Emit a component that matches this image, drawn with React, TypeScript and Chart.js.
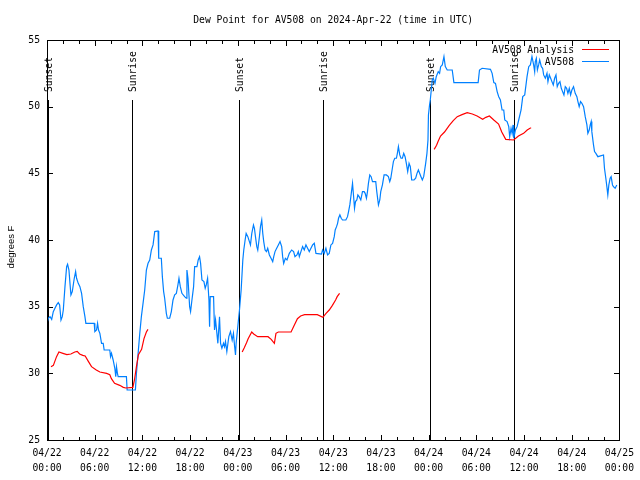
import React, { useEffect, useRef } from 'react';
import { Chart, registerables } from 'chart.js';

Chart.register(...registerables);

const TITLE = 'Dew Point for AV508 on 2024-Apr-22 (time in UTC)';
const Y_TITLE = 'degrees F';
const ANALYSIS_NAME = 'AV508 Analysis';
const STATION_NAME = 'AV508';

// x = hours since 04/22 00:00 UTC
const X_MIN = 0;
const X_MAX = 72;
const Y_MIN = 25;
const Y_MAX = 55;
const Y_TICKS = [25, 30, 35, 40, 45, 50, 55];
const X_LABEL_HOURS = [0, 6, 12, 18, 24, 30, 36, 42, 48, 54, 60, 66, 72];

const sunEventHours = [0.08, 10.7, 24.12, 34.71, 48.21, 58.74];
const sunEventLabels = ['Sunset', 'Sunrise', 'Sunset', 'Sunrise', 'Sunset', 'Sunrise'];

// AV508 Analysis (three runs, separated by gaps)
const analysisHours = [
  0.5, 0.8, 1.2, 1.5, 2.0, 2.5, 3.0, 3.5, 3.8, 4.1, 4.5, 4.8, 5.2, 5.6, 6.2, 6.65, 7.5, 7.9, 8.1, 8.5, 9.15, 9.6, 9.9, 10.8, 11.0, 11.25, 11.5, 11.9, 12.2, 12.5, 12.7,
  18.0,
  24.55, 24.8, 25.1, 25.3, 25.75, 26.0, 26.5, 27.8, 28.2, 28.6, 28.8, 29.1, 30.7, 31.1, 31.5, 31.9, 32.4, 34.0, 34.7, 35.1, 35.5, 35.9, 36.3, 36.5, 36.8,
  42.0,
  48.7, 49.0, 49.2, 49.5, 50.0, 50.6, 51.1, 51.6, 52.2, 52.85, 53.5, 54.1, 54.8, 55.2, 55.65, 56.2, 56.8, 57.2, 57.7, 58.7, 59.3, 59.95, 60.4, 60.8, 60.9,
];
const analysisValues = [
  30.5, 30.6, 31.25, 31.6, 31.5, 31.4, 31.45, 31.6, 31.65, 31.45, 31.35, 31.3, 30.9, 30.5, 30.25, 30.1, 30.0, 29.9, 29.6, 29.25, 29.1, 28.95, 28.9, 28.95, 29.5, 30.5, 31.4, 31.8, 32.6, 33.1, 33.3,
  null,
  31.6, 31.9, 32.3, 32.6, 33.1, 32.95, 32.75, 32.75, 32.55, 32.25, 33.0, 33.1, 33.1, 33.6, 34.1, 34.3, 34.4, 34.4, 34.2, 34.5, 34.75, 35.1, 35.5, 35.75, 36.0,
  null,
  46.8, 47.1, 47.4, 47.8, 48.1, 48.6, 48.95, 49.25, 49.4, 49.55, 49.45, 49.3, 49.05, 49.2, 49.3, 49.0, 48.7, 48.1, 47.55, 47.5, 47.8, 48.0, 48.25, 48.4, 48.4,
];

// AV508 observations
const stationHours = [
  0.0, 0.17, 0.38, 0.59, 0.79, 1.0, 1.21, 1.42, 1.59, 1.76, 1.92, 2.05, 2.26, 2.47, 2.59, 2.76, 2.89, 3.01, 3.18, 3.43,
  3.6, 3.72, 3.93, 4.14, 4.35, 4.56, 4.77, 4.89, 5.94, 6.02, 6.23, 6.36, 6.48, 6.65, 6.86, 7.07, 7.19, 7.9, 7.99, 8.11,
  8.32, 8.53, 8.65, 8.74, 8.86, 8.95, 9.99, 10.08, 11.12, 11.25, 11.46, 11.67, 11.87, 12.08, 12.29, 12.5, 12.71, 12.92, 13.13, 13.34,
  13.55, 13.97, 14.05, 14.38, 14.51, 14.67, 14.8, 15.01, 15.14, 15.43, 15.64, 15.85, 16.06, 16.27, 16.47, 16.6, 16.77, 16.97, 17.31, 17.52,
  17.6, 17.73, 17.94, 18.06, 18.23, 18.44, 18.57, 18.86, 19.02, 19.19, 19.32, 19.49, 19.74, 19.9, 20.03, 20.2, 20.37, 20.45, 20.53, 20.95,
  21.07, 21.2, 21.37, 21.49, 21.7, 21.83, 22.0, 22.2, 22.33, 22.45, 22.62, 22.87, 23.08, 23.29, 23.45, 23.58, 23.71, 23.79, 24.0, 24.08,
  24.21, 24.42, 24.63, 24.75, 24.92, 25.05, 25.26, 25.46, 25.59, 25.76, 25.97, 26.09, 26.22, 26.39, 26.51, 26.72, 26.85, 27.01, 27.14, 27.26,
  27.43, 27.6, 27.76, 27.97, 28.18, 28.39, 28.52, 28.68, 28.89, 29.1, 29.31, 29.52, 29.64, 29.77, 29.98, 30.19, 30.48, 30.77, 31.02, 31.19,
  31.44, 31.61, 31.74, 31.94, 32.15, 32.36, 32.57, 32.78, 32.99, 33.2, 33.41, 33.62, 33.83, 34.53, 34.66, 34.87, 35.08, 35.29, 35.5, 35.71,
  35.92, 36.13, 36.25, 36.42, 36.55, 36.67, 36.84, 37.01, 37.17, 37.59, 37.8, 37.93, 38.09, 38.3, 38.43, 38.55, 38.68, 38.8, 38.97, 39.1,
  39.26, 39.47, 39.68, 39.89, 40.02, 40.18, 40.31, 40.43, 40.6, 40.77, 40.94, 41.35, 41.48, 41.69, 41.86, 41.98, 42.19, 42.4, 42.69, 42.94,
  43.11, 43.24, 43.44, 43.57, 43.74, 43.95, 44.07, 44.2, 44.37, 44.53, 44.7, 44.87, 45.04, 45.2, 45.37, 45.54, 45.7, 45.87, 46.16, 46.37,
  46.54, 46.71, 46.87, 47.04, 47.21, 47.38, 47.63, 47.79, 47.92, 47.98, 48.12, 48.21, 48.46, 48.59, 48.8, 48.96, 49.21, 49.38, 49.51, 49.72,
  49.93, 50.1, 50.34, 50.97, 51.18, 54.23, 54.4, 54.73, 55.78, 55.99, 56.2, 56.41, 56.62, 56.82, 57.03, 57.24, 57.45, 57.58, 57.87, 58.08,
  58.2, 58.37, 58.5, 58.62, 58.71, 58.92, 59.13, 59.33, 59.63, 59.84, 60.09, 60.38, 60.59, 60.8, 61.0, 61.21, 61.34, 61.42, 61.55, 61.68,
  61.84, 61.97, 62.18, 62.34, 62.47, 62.68, 62.89, 63.01, 63.18, 63.35, 63.51, 63.68, 63.85, 64.02, 64.18, 64.35, 64.52, 64.69, 64.85, 65.02,
  65.19, 65.36, 65.52, 65.69, 65.86, 66.02, 66.23, 66.44, 66.65, 66.78, 66.94, 67.11, 67.28, 67.49, 67.7, 67.91, 68.03, 68.2, 68.33, 68.45,
  68.53, 68.74, 68.87, 69.04, 69.29, 70.0, 70.12, 70.29, 70.42, 70.54, 70.67, 70.83, 70.96, 71.13, 71.25, 71.46, 71.67,
];
const stationValues = [
  33.75, 34.13, 34.25, 34.05, 34.62, 34.88, 35.13, 35.3, 35.13, 34.0, 34.25, 34.75, 36.5, 38.0, 38.18, 37.75, 36.75, 35.88, 36.13, 37.13,
  37.63, 37.13, 36.75, 36.5, 36.0, 35.0, 34.25, 33.75, 33.75, 33.13, 33.25, 33.75, 33.25, 33.0, 32.25, 32.25, 31.75, 31.75, 31.25, 31.5,
  31.0, 30.38, 29.75, 30.5, 30.0, 29.75, 29.75, 28.75, 28.75, 30.0, 31.5, 33.0, 34.25, 35.25, 36.25, 37.75, 38.25, 38.5, 39.25, 39.63,
  40.63, 40.68, 38.63, 38.63, 37.25, 36.13, 35.63, 34.5, 34.13, 34.13, 34.63, 35.5, 35.88, 36.0, 36.63, 37.13, 36.5, 36.0, 35.75, 35.63,
  37.75, 37.13, 35.0, 34.63, 35.5, 36.5, 38.0, 38.0, 38.5, 38.75, 38.25, 37.0, 36.88, 36.38, 36.63, 37.13, 35.5, 33.5, 35.75, 35.75,
  33.25, 34.0, 33.0, 32.25, 34.25, 32.25, 31.88, 32.25, 32.0, 32.38, 31.63, 32.75, 33.13, 32.5, 33.0, 32.13, 31.38, 32.25, 33.5, 34.0,
  34.75, 36.25, 38.5, 39.25, 40.0, 40.5, 40.25, 39.88, 39.63, 40.5, 41.13, 40.88, 40.25, 39.5, 39.25, 40.25, 41.0, 41.5, 40.5, 39.88,
  39.25, 39.13, 39.38, 38.88, 38.63, 38.38, 38.75, 39.13, 39.38, 39.63, 39.88, 39.5, 38.75, 38.25, 38.63, 38.5, 39.0, 39.25, 39.13, 38.75,
  38.88, 39.13, 38.75, 39.13, 39.5, 39.25, 39.63, 39.38, 39.13, 39.38, 39.63, 39.75, 39.0, 38.95, 39.25, 39.0, 39.38, 38.88, 39.0, 39.63,
  39.75, 40.25, 40.75, 41.0, 41.25, 41.63, 41.88, 41.63, 41.5, 41.5, 41.75, 42.13, 42.63, 43.63, 44.25, 43.38, 42.38, 42.88, 43.0, 43.38,
  43.25, 43.0, 43.63, 43.63, 43.5, 43.13, 43.63, 44.25, 44.88, 44.75, 44.38, 44.38, 43.63, 42.63, 43.0, 43.63, 44.13, 44.88, 44.88, 44.75,
  44.38, 44.63, 45.38, 45.88, 46.13, 46.13, 46.5, 47.0, 46.38, 46.13, 46.13, 46.5, 46.25, 45.75, 45.13, 45.75, 45.5, 44.5, 44.5, 44.63,
  45.0, 45.25, 45.0, 44.75, 44.5, 44.75, 45.75, 46.5, 47.5, 49.38, 50.13, 50.5, 52.0, 52.13, 51.75, 52.25, 52.63, 52.5, 53.0, 53.13,
  53.75, 53.0, 52.75, 52.75, 51.8, 51.8, 52.75, 52.88, 52.8, 52.5, 51.8, 51.75, 51.13, 50.75, 50.5, 49.75, 49.75, 49.0, 48.88, 48.5,
  47.75, 48.38, 48.0, 48.63, 47.63, 48.25, 48.5, 49.0, 49.75, 50.75, 50.88, 52.25, 53.0, 53.13, 53.75, 53.13, 52.63, 53.38, 53.63, 52.75,
  53.13, 53.5, 53.0, 52.88, 52.38, 52.13, 52.5, 51.88, 52.38, 52.13, 51.88, 51.63, 52.13, 52.38, 51.5, 51.75, 51.88, 51.38, 51.13, 50.88,
  51.5, 51.38, 51.0, 51.38, 50.88, 51.25, 51.5, 51.0, 50.75, 50.38, 50.0, 50.38, 50.25, 50.0, 49.25, 48.63, 48.0, 48.25, 48.63, 48.88,
  48.13, 47.13, 46.63, 46.5, 46.25, 46.38, 45.38, 44.63, 44.0, 43.38, 44.13, 44.63, 44.75, 44.13, 44.0, 43.88, 44.13,
];

const MONO_FAMILY = '"DejaVu Sans Mono", "Liberation Mono", monospace';
const MONO = '9.7px ' + MONO_FAMILY;
const SANS = '9.5px "Liberation Sans", Arial, sans-serif';
const RED = '#ff0000';
const BLUE = '#0080ff';

const legendNames = [ANALYSIS_NAME, STATION_NAME];
const legendColors = [RED, BLUE];

function hourLabel(h: number): string[] {
  const day = 22 + Math.floor(h / 24);
  const hh = h % 24;
  return ['04/' + String(day).padStart(2, '0'), String(hh).padStart(2, '0') + ':00'];
}

const gnuplotLook = {
  id: 'gnuplotLook',
  beforeDatasetsDraw(chart: any) {
    const { ctx, chartArea: a, scales } = chart;
    const x = scales.x;
    const lineTop = a.bottom - 0.85 * (a.bottom - a.top);
    const labelBase = a.bottom - 0.87 * (a.bottom - a.top);
    ctx.save();
    ctx.fillStyle = '#000';
    ctx.font = MONO;
    sunEventHours.forEach((h, i) => {
      const px = Math.round(x.getPixelForValue(h));
      ctx.fillRect(px, lineTop, 1, a.bottom - lineTop);
      ctx.save();
      ctx.translate(px + 1.5, labelBase);
      ctx.rotate(-Math.PI / 2);
      ctx.textAlign = 'left';
      ctx.textBaseline = 'middle';
      ctx.fillText(sunEventLabels[i], 0, 0);
      ctx.restore();
    });
    ctx.restore();
  },
  afterDraw(chart: any) {
    const { ctx, chartArea: a, scales } = chart;
    const x = scales.x;
    const y = scales.y;
    ctx.save();
    ctx.fillStyle = '#000';
    const L = Math.round(a.left);
    const R = Math.round(a.right);
    const T = Math.round(a.top);
    const B = Math.round(a.bottom);
    // frame
    ctx.fillRect(L, T, R - L + 1, 1);
    ctx.fillRect(L, B, R - L + 1, 1);
    ctx.fillRect(L, T, 1, B - T + 1);
    ctx.fillRect(R, T, 1, B - T + 1);
    // x ticks (major every 6h, minor every 2h), mirrored on top
    for (let h = X_MIN; h <= X_MAX; h += 2) {
      const px = Math.round(x.getPixelForValue(h));
      const len = h % 6 === 0 ? 5 : 3;
      ctx.fillRect(px, B - len, 1, len);
      ctx.fillRect(px, T + 1, 1, len);
    }
    Y_TICKS.forEach((v) => {
      const py = Math.round(y.getPixelForValue(v));
      ctx.fillRect(L + 1, py, 5, 1);
      ctx.fillRect(R - 5, py, 5, 1);
    });
    // legend samples
    for (let i = 0; i < legendNames.length; i++) {
      ctx.fillStyle = legendColors[i];
      ctx.fillRect(582, 49 + i * 12, 27, 1);
    }
    // legend text
    ctx.fillStyle = '#000';
    ctx.font = MONO;
    ctx.textAlign = 'right';
    ctx.textBaseline = 'middle';
    for (let i = 0; i < legendNames.length; i++) {
      ctx.fillText(legendNames[i], 574, 50 + i * 12);
    }
    // title
    ctx.textAlign = 'center';
    ctx.fillText(TITLE, (a.left + a.right) / 2, 20);
    // y title
    ctx.save();
    ctx.translate(11, 247);
    ctx.rotate(-Math.PI / 2);
    ctx.font = SANS;
    ctx.textAlign = 'center';
    ctx.textBaseline = 'middle';
    ctx.fillText(Y_TITLE, 0, 0);
    ctx.restore();
    ctx.restore();
  },
};

export default function App() {
  const ref = useRef<HTMLCanvasElement | null>(null);
  useEffect(() => {
    if (!ref.current) return;
    const analysisData = analysisHours.map((h, i) => ({ x: h, y: analysisValues[i] }));
    const stationData = stationHours.map((h, i) => ({ x: h, y: stationValues[i] }));
    const chart = new Chart(ref.current, {
      type: 'line',
      data: {
        datasets: [
          {
            label: ANALYSIS_NAME,
            data: analysisData as any,
            borderColor: RED,
            borderWidth: 1.2,
            pointRadius: 0,
            tension: 0,
            spanGaps: false,
            fill: false,
          },
          {
            label: STATION_NAME,
            data: stationData as any,
            borderColor: BLUE,
            borderWidth: 1.2,
            pointRadius: 0,
            tension: 0,
            fill: false,
          },
        ],
      },
      options: {
        animation: false,
        responsive: false,
        maintainAspectRatio: false,
        devicePixelRatio: 1,
        layout: { padding: { top: 40, right: 20, left: 0, bottom: 0 } },
        plugins: {
          legend: { display: false },
          title: { display: false },
          tooltip: { enabled: false },
        },
        scales: {
          x: {
            type: 'linear',
            min: X_MIN,
            max: X_MAX,
            grid: { display: false, drawTicks: false },
            border: { display: false },
            afterFit: (s: any) => {
              s.height = 40;
            },
            afterBuildTicks: (s: any) => {
              s.ticks = X_LABEL_HOURS.map((v) => ({ value: v }));
            },
            ticks: {
              autoSkip: false,
              maxRotation: 0,
              minRotation: 0,
              padding: 6,
              color: '#000',
              font: { family: MONO_FAMILY, size: 9.7, lineHeight: 1.55 },
              callback: (v: any) => hourLabel(Number(v)),
            },
          },
          y: {
            type: 'linear',
            min: Y_MIN,
            max: Y_MAX,
            grid: { display: false, drawTicks: false },
            border: { display: false },
            afterFit: (s: any) => {
              s.width = 47;
            },
            afterBuildTicks: (s: any) => {
              s.ticks = Y_TICKS.map((v) => ({ value: v }));
            },
            ticks: {
              padding: 7,
              color: '#000',
              font: { family: MONO_FAMILY, size: 9.7 },
            },
          },
        },
      },
      plugins: [gnuplotLook],
    });
    return () => chart.destroy();
  }, []);
  return (
    <div style={{ position: 'fixed', left: 0, top: 0, width: 640, height: 480, background: '#fff' }}>
      <canvas ref={ref} width={640} height={480} />
    </div>
  );
}
